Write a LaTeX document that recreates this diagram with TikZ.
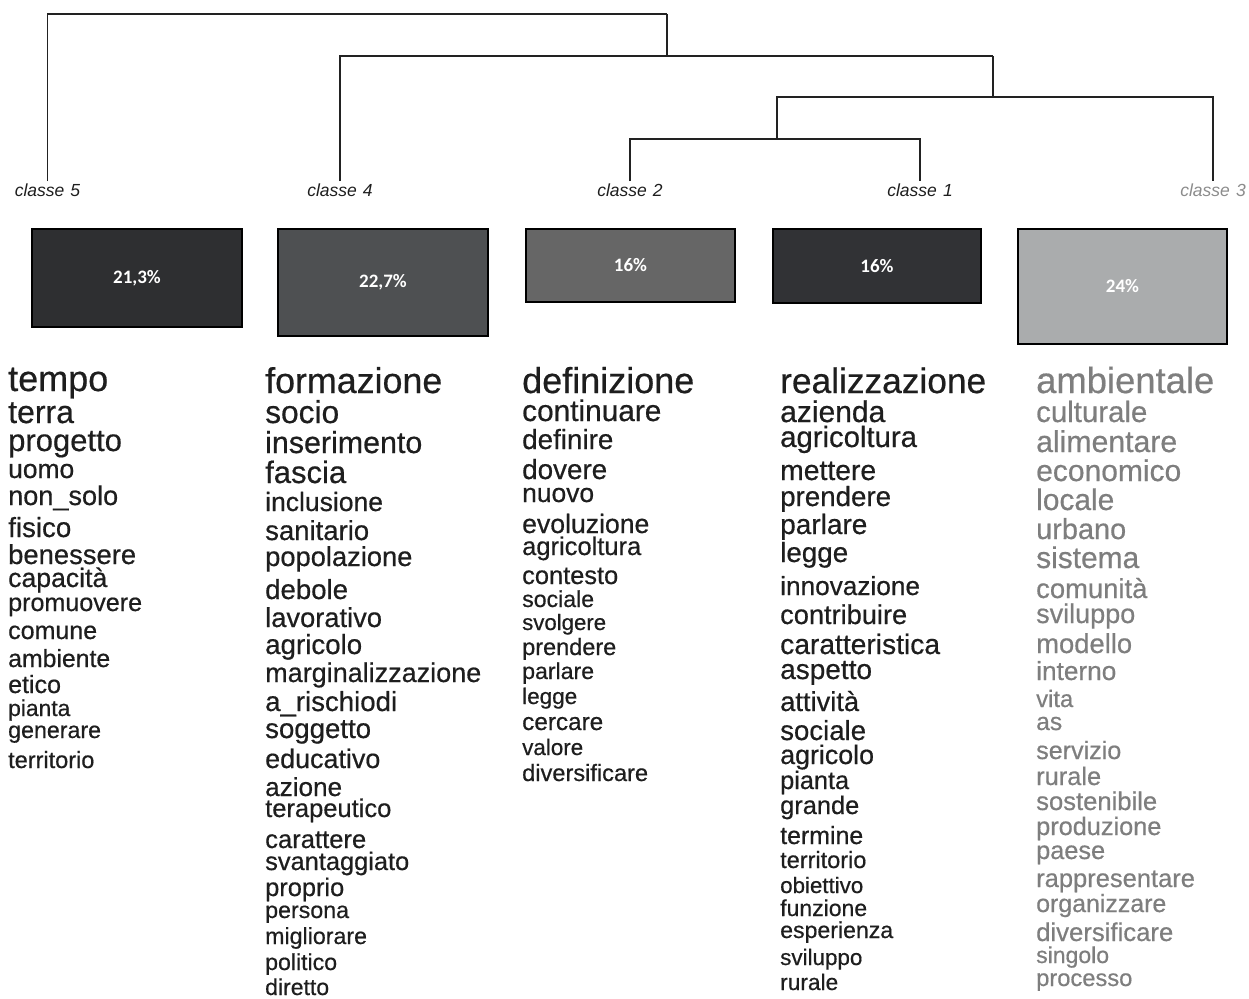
\documentclass[tikz,border=0pt]{standalone}
\usepackage{fontspec}
\setmainfont{Liberation Sans}
\newfontfamily\wordfont[FakeBold=0.5]{Liberation Sans}
\newfontfamily\boxfont{Carlito}
\definecolor{txtdark}{HTML}{1E1E1E}
\definecolor{txtgray}{HTML}{7E7E7E}
\definecolor{lblgray}{HTML}{8C8C8C}
\definecolor{bfive}{HTML}{2E2F31}
\definecolor{bfour}{HTML}{4E5052}
\definecolor{btwo}{HTML}{666666}
\definecolor{bone}{HTML}{313235}
\definecolor{bthree}{HTML}{AAACAD}
\definecolor{linec}{HTML}{222222}
\tikzset{
  word/.style={anchor=base west, inner sep=0pt, text=txtdark},
  grayword/.style={word, text=txtgray},
  clabel/.style={anchor=base, inner sep=2pt, font=\fontsize{17.5}{17.5}\selectfont\itshape, text=txtdark},
  dendro/.style={draw=linec, line width=1.4pt},
  pbox/.style={draw=black, line width=1.6pt, inner sep=0pt, text=white, font=\boxfont\bfseries\fontsize{19}{19}\selectfont},
}
\newcommand\wsz[1]{\wordfont\fontsize{#1}{#1}\selectfont}
\begin{document}
\begin{tikzpicture}[x=1pt,y=-1pt]
\useasboundingbox[fill=white] (0,0) rectangle (1249,998);

% class labels
\node[clabel] (c5) at (47.5,196) {classe\hspace{0.35em}5};
\node[clabel] (c4) at (340,196) {classe\hspace{0.35em}4};
\node[clabel] (c2) at (630,196) {classe\hspace{0.35em}2};
\node[clabel] (c1) at (920,196) {classe\hspace{0.35em}1};
\node[clabel, text=lblgray] (c3) at (1213,196) {classe\hspace{0.35em}3};

% dendrogram joins
\coordinate (j1) at (667,14);
\coordinate (j2) at (993,56);
\coordinate (j3) at (777,97);
\coordinate (j4) at (777,139);
\draw[dendro] (c2.north) |- (j4) -| (c1.north);
\draw[dendro] (j4) -- (j3) -| (c3.north);
\draw[dendro] (c4.north) |- (j2);
\draw[dendro] (j3 -| j2) -- (j2);
\draw[dendro] (c5.north) |- (j1);
\draw[dendro] (j1) -- (j1 |- j2);

% percentage boxes
\node[pbox, fill=bfive, minimum width=210pt, minimum height=98pt] (b5) at (137,278) {21,3\%};
\node[pbox, fill=bfour, minimum width=210pt, minimum height=107pt] (b4) at (383,282.5) {22,7\%};
\node[pbox, fill=btwo, minimum width=209pt, minimum height=73pt] (b2) at (630.5,265.5) {16\%};
\node[pbox, fill=bone, minimum width=208pt, minimum height=74pt] (b1) at (877,266) {16\%};
\node[pbox, fill=bthree, minimum width=209pt, minimum height=115pt] (b3) at (1122.5,286.5) {24\%};

% column 1 (classe 5)
\foreach \sz/\yb/\tx [count=\i] in {
 36/391/tempo, 32/423/terra, 31/451/progetto, 26.4/478/uomo, 27.1/505/non\_solo,
 27.7/537/fisico, 27.4/564/benessere, 26.6/587/{capacità}, 25.1/611/promuovere,
 25/639/comune, 24.8/667/ambiente, 25/693/etico, 22.8/716/pianta,
 23.2/738/generare, 23.5/768/territorio}
 {\node[word, font=\wsz{\sz}] (wa\i) at (8,\yb) {\tx};}

% column 2 (classe 4)
\foreach \sz/\yb/\tx [count=\i] in {
 35.8/393/formazione, 31.7/423/socio, 30.4/453/inserimento, 31/483/fascia,
 26.5/511/inclusione, 27.5/540/sanitario, 27.3/566/popolazione, 27.6/599/debole,
 27.3/627/lavorativo, 27.7/654/agricolo, 27/682/marginalizzazione,
 27.6/711/a\_rischiodi, 27.6/738/soggetto, 26.9/768/educativo, 26.1/796/azione,
 25.5/817/terapeutico, 25.6/848/carattere, 25.4/870/svantaggiato,
 25.4/896/proprio, 23.2/918/persona, 23.2/944/migliorare, 23.1/970/politico,
 23/995/diretto}
 {\node[word, font=\wsz{\sz}] (wb\i) at (265,\yb) {\tx};}

% column 3 (classe 2)
\foreach \sz/\yb/\tx [count=\i] in {
 36/393/definizione, 29.8/421/continuare, 27.8/449/definire, 27.8/479/dovere,
 26.4/502/nuovo, 26.6/533/evoluzione, 25.5/555/agricoltura, 25.4/584/contesto,
 23.1/607/sociale, 22.2/630/svolgere, 23.5/655/prendere, 23.1/679/parlare,
 22.5/704/legge, 24.3/730/cercare, 22.4/755/valore, 23.6/781/diversificare}
 {\node[word, font=\wsz{\sz}] (wc\i) at (522,\yb) {\tx};}

% column 4 (classe 1)
\foreach \sz/\yb/\tx [count=\i] in {
 35.3/393/realizzazione, 30/422/azienda, 29.3/447/agricoltura, 28.3/480/mettere,
 27.7/506/prendere, 28/534/parlare, 27.8/562/legge, 26.2/595/innovazione,
 27.2/624/contribuire, 28.2/654/caratteristica, 28/679/aspetto,
 27.3/711/{attività}, 27.6/740/sociale, 26.8/764/agricolo, 25.3/789/pianta,
 25.4/814/grande, 24.9/844/termine, 23.5/868/territorio, 22.3/893/obiettivo,
 23/916/funzione, 23.1/938/esperienza, 22.4/965/sviluppo, 22.7/990/rurale}
 {\node[word, font=\wsz{\sz}] (wd\i) at (780,\yb) {\tx};}

% column 5 (classe 3)
\foreach \sz/\yb/\tx [count=\i] in {
 36.4/393/ambientale, 29.4/422/culturale, 30.2/452/alimentare, 30/481/economico,
 29.9/510/locale, 28.9/539/urbano, 29.9/568/sistema, 27.4/598/{comunità},
 27/623/sviluppo, 27.4/653/modello, 26.2/680/interno, 23.8/707/vita, 24.6/730/as,
 25.1/759/servizio, 25.4/785/rurale, 25.6/810/sostenibile, 25.3/835/produzione,
 25.3/859/paese, 25.5/887/rappresentare, 24.9/912/organizzare,
 25.7/941/diversificare, 23/963/singolo, 23.7/986/processo}
 {\node[grayword, font=\wsz{\sz}] (we\i) at (1036,\yb) {\tx};}
\end{tikzpicture}
\end{document}
